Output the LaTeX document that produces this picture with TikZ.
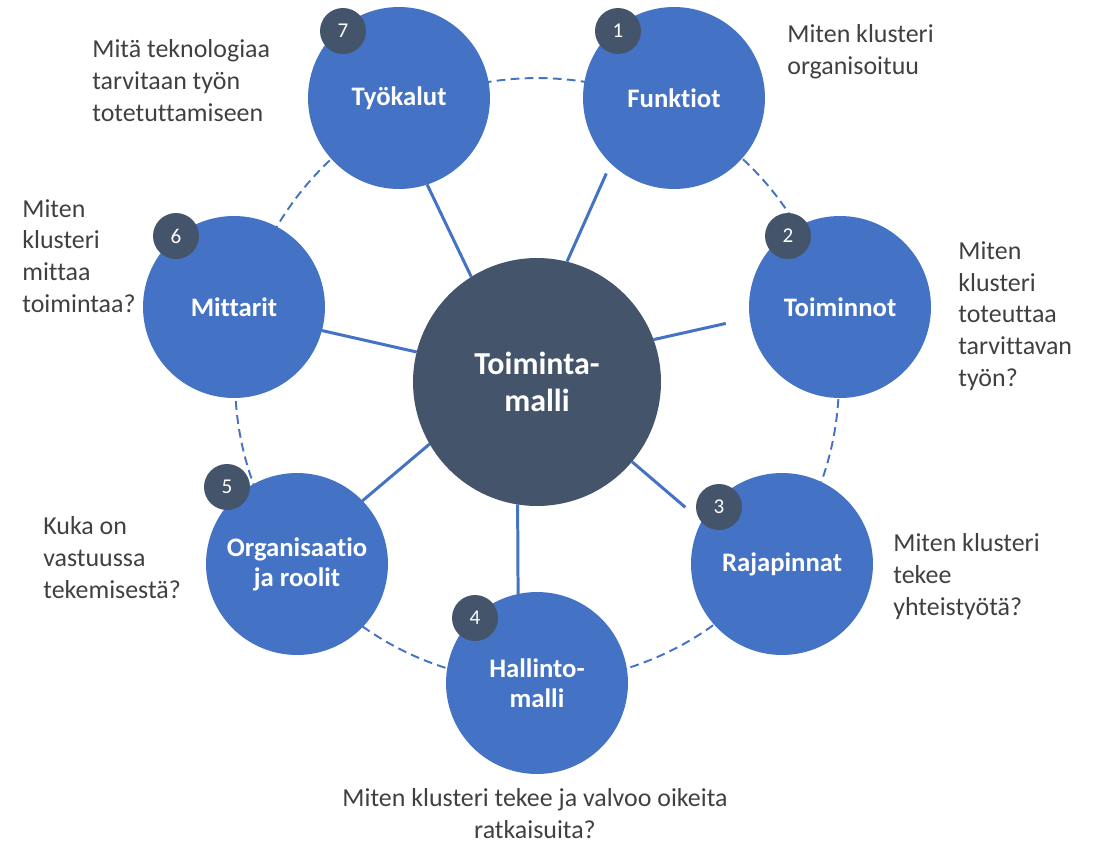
\documentclass[tikz,border=0pt]{standalone}
\usepackage{fontspec}
\setmainfont{Carlito}[Ligatures=NoCommon]
\definecolor{ofblue}{HTML}{4472C4}
\definecolor{ofdark}{HTML}{44546A}
\definecolor{ofgray}{HTML}{404040}
\begin{document}
\begin{tikzpicture}[x=0.02cm,y=-0.02cm,
        part/.style={circle,fill=ofblue,minimum size=3.64cm,inner sep=0pt,outer sep=0pt,
            text=white,align=center,font=\fontsize{15.2}{17}\selectfont\bfseries},
        hub/.style={circle,fill=ofdark,minimum size=4.96cm,inner sep=0pt,outer sep=0pt,
            text=white,align=center,font=\fontsize{18.2}{21.4}\selectfont\bfseries},
        badge/.style={circle,fill=ofdark,minimum size=0.92cm,inner sep=0pt,
            text=white,font=\fontsize{12}{14}\selectfont},
        question/.style={anchor=base west,inner sep=0pt,text=ofgray,align=left,
            font=\fontsize{14.75}{18}\selectfont},
        spoke/.style={draw=ofblue,line width=1.7pt},
        ring/.style={draw=ofblue,line width=1.1pt,dash pattern=on 5pt off 3pt}]
    \useasboundingbox (0,0) rectangle (1099,842);
    % dashed ring behind the circles
    \draw[ring] (537,380) circle [radius=6.04cm];
    \node[hub] (hub) at (537,382) {Toiminta-\\malli};
    \node[part] (funk) at (674,98) {Funktiot};
    \node[part] (toim) at (840,307) {Toiminnot};
    \node[part] (raja) at (782,564) {Rajapinnat};
    \node[part] (hall) at (537,683) {Hallinto-\\malli};
    \node[part] (org) at (297,564) {Organisaatio\\ja roolit};
    \node[part] (mitt) at (234,307) {Mittarit};
    \node[part] (tyok) at (399,98) {Työkalut};
    % spokes
    \draw[spoke,shorten >=0.22cm] (hub.76) -- (funk.226);
    \draw[spoke,shorten >=0.49cm] (hub.20) -- (toim.187);
    \draw[spoke,shorten >=0.43cm] (hub.320) -- (raja.152);
    \draw[spoke] (hub.261) -- (hall.102);
    \draw[spoke] (hub.210) -- (org.44);
    \draw[spoke] (hub.166) -- (mitt.345);
    \draw[spoke] (hub.122) -- (tyok.288);
    % number badges
    \node[badge] (b1) at (618,31) {1};
    \node[badge] (b2) at (788,236) {2};
    \node[badge] (b3) at (719,507) {3};
    \node[badge] (b4) at (475,618) {4};
    \node[badge] (b5) at (227,487) {5};
    \node[badge] (b6) at (176,236) {6};
    \node[badge] (b7) at (343,31) {7};
    % questions (anchored at the baseline of the last line)
    \node[question] (q1) at (787,74) {Miten klusteri\\organisoituu};
    \node[question] (q2) at (958,386) {Miten\\klusteri\\toteuttaa\\tarvittavan\\työn?};
    \node[question] (q3) at (893,615) {Miten klusteri\\tekee\\yhteistyötä?};
    \node[question,anchor=base,align=center] (q4) at (535,838) {Miten klusteri tekee ja valvoo oikeita\\ratkaisuita?};
    \node[question] (q5) at (43,598) {Kuka on\\vastuussa\\tekemisestä?};
    \node[question] (q6) at (22,312) {Miten\\klusteri\\mittaa\\toimintaa?};
    \node[question] (q7) at (92,121) {Mitä teknologiaa\\tarvitaan työn\\totetuttamiseen};
\end{tikzpicture}
\end{document}
